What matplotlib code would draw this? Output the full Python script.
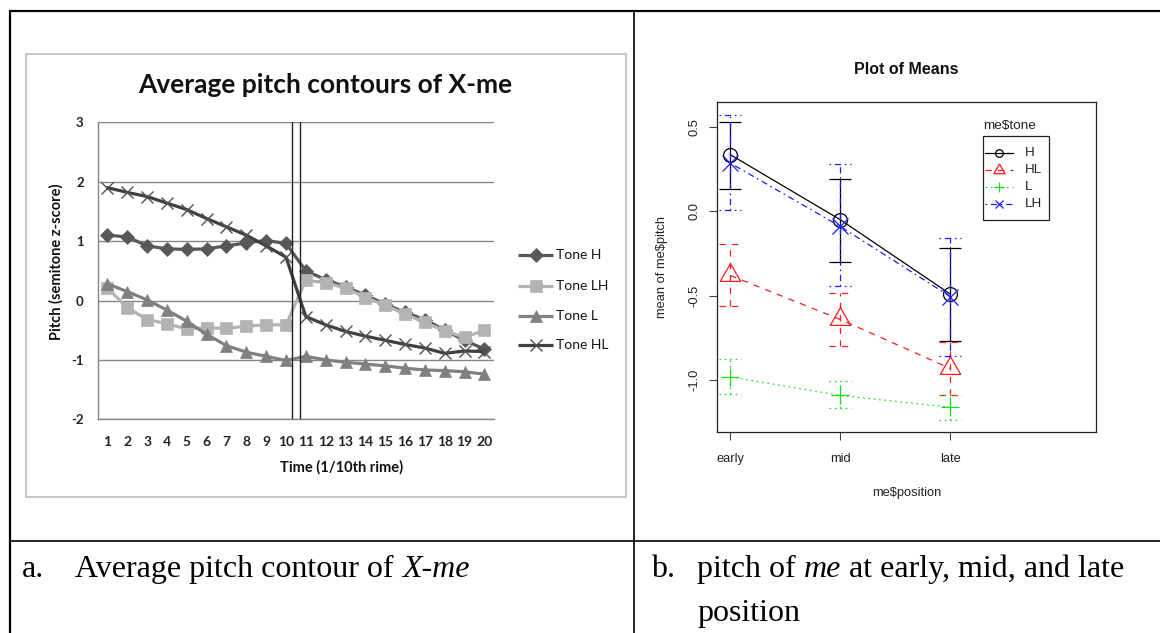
import matplotlib
matplotlib.use("Agg")
import matplotlib.pyplot as plt
from matplotlib.patches import Rectangle

W, H = 1160, 633

# ---- panel a: average pitch contours over 20 time steps ----
time_steps = list(range(1, 21))
tone_h = [1.10, 1.07, 0.92, 0.87, 0.86, 0.87, 0.92, 0.97, 1.01, 0.96,
          0.50, 0.35, 0.23, 0.09, -0.06, -0.20, -0.32, -0.50, -0.67, -0.82]
tone_lh = [0.21, -0.12, -0.32, -0.39, -0.48, -0.46, -0.47, -0.43, -0.41, -0.41,
           0.34, 0.30, 0.21, 0.05, -0.08, -0.23, -0.37, -0.51, -0.62, -0.50]
tone_l = [0.28, 0.15, 0.01, -0.16, -0.35, -0.57, -0.76, -0.87, -0.94, -1.01,
          -0.94, -1.00, -1.04, -1.07, -1.10, -1.14, -1.17, -1.18, -1.20, -1.24]
tone_hl = [1.90, 1.82, 1.75, 1.64, 1.53, 1.38, 1.24, 1.10, 0.92, 0.73,
           -0.27, -0.41, -0.52, -0.60, -0.67, -0.74, -0.80, -0.89, -0.85, -0.86]
boundary_marks = [10.32, 10.71]
y_ticks_a = [-2, -1, 0, 1, 2, 3]

# ---- panel b: means with intervals by position ----
positions = ["early", "mid", "late"]
tones_b = ["H", "HL", "L", "LH"]
mean_h = [0.335, -0.05, -0.49]
low_h = [0.13, -0.30, -0.77]
high_h = [0.53, 0.19, -0.22]
mean_hl = [-0.38, -0.64, -0.93]
low_hl = [-0.56, -0.80, -1.085]
high_hl = [-0.196, -0.484, -0.775]
mean_l = [-0.98, -1.09, -1.16]
low_l = [-1.08, -1.164, -1.237]
high_l = [-0.874, -1.004, -1.085]
mean_lh = [0.285, -0.09, -0.505]
low_lh = [0.01, -0.443, -0.854]
high_lh = [0.57, 0.277, -0.156]
y_ticks_b = [-1.0, -0.5, 0.0, 0.5]

fig = plt.figure(figsize=(W / 100, H / 100), dpi=100)
fig.patch.set_facecolor("white")


def px_axes(left, top, right, bottom):
    return fig.add_axes([left / W, 1 - bottom / H, (right - left) / W, (bottom - top) / H])


EXCEL = "Lato"
RFONT = "Liberation Sans"
SERIF = "Liberation Serif"

# ================= panel a =================
axl = px_axes(97.5, 122.3, 494.3, 419.3)
axl.set_xlim(0.5, 20.5)
axl.set_ylim(-2, 3)
for s in ["top", "right"]:
    axl.spines[s].set_visible(False)
for s in ["left", "bottom"]:
    axl.spines[s].set_color("#868686")
    axl.spines[s].set_linewidth(1.0)
axl.set_yticks(y_ticks_a)
axl.set_yticklabels([str(v) for v in y_ticks_a], fontfamily=EXCEL,
                    fontweight="bold", fontsize=9.5, color="#222222")
axl.set_xticks(time_steps)
axl.set_xticklabels([str(t) for t in time_steps], fontfamily=EXCEL,
                    fontweight="bold", fontsize=10, color="#222222")
axl.tick_params(axis="y", length=0, pad=10)
axl.tick_params(axis="x", length=0, pad=12)
axl.yaxis.grid(True, color="#868686", linewidth=1.0)
axl.set_axisbelow(True)

series_a = [
    ("Tone H", tone_h, "#585858", "D", 7, "#585858"),
    ("Tone LH", tone_lh, "#b3b3b3", "s", 8.5, "#b3b3b3"),
    ("Tone L", tone_l, "#808080", "^", 9, "#808080"),
    ("Tone HL", tone_hl, "#404040", "x", 8, "#505050"),
]
for name, vals, col, mk, ms, mcol in series_a:
    axl.plot(time_steps, vals, color=col, lw=2.3, marker=mk, ms=ms,
             markerfacecolor=mcol, markeredgecolor=mcol,
             mew=1.0 if mk == "x" else 0.5, solid_capstyle="round", zorder=3)
for xb in boundary_marks:
    axl.axvline(xb, color="#222222", lw=1.0, zorder=4)

# ================= panel b =================
axr = px_axes(716.7, 102.3, 1096, 432.3)
axr.set_xlim(0.876, 4.325)
axr.set_ylim(-1.308, 0.645)
axr.set_facecolor("none")
for s in axr.spines.values():
    s.set_color("#222222")
    s.set_linewidth(0.9)
xpos = [1, 2, 3]
axr.set_xticks(xpos)
axr.set_xticklabels(positions, fontfamily=RFONT, fontsize=9.3, color="#222222")
axr.set_yticks(y_ticks_b)
axr.set_yticklabels([f"{v:.1f}" for v in y_ticks_b], fontfamily=RFONT,
                    fontsize=9.3, rotation=90, va="center", color="#222222")
axr.tick_params(length=5.8, width=0.8, color="#444444")
axr.tick_params(axis="x", pad=9)
axr.tick_params(axis="y", pad=6)

tri = [(0, 1), (-0.866, -0.5), (0.866, -0.5), (0, 1)]
series_b = [
    ("H", mean_h, low_h, high_h, "black", "-", "o", 10, "none"),
    ("HL", mean_hl, low_hl, high_hl, "#ff1a1a", (0, (5, 5)), tri, 17, "none"),
    ("L", mean_l, low_l, high_l, "#1ed81e", (0, (1.3, 3)), "+", 13, "none"),
    ("LH", mean_lh, low_lh, high_lh, "#1a1aff", (0, (1.3, 3, 5, 3)), "x", 11, "none"),
]
cap = 0.1
for name, m, lo, hi, col, ls, mk, ms, fc in series_b:
    axr.vlines(xpos, lo, hi, colors=col, linestyles=ls, lw=0.9)
    axr.hlines(lo, [x - cap for x in xpos], [x + cap for x in xpos],
               colors=col, linestyles=ls, lw=0.9)
    axr.hlines(hi, [x - cap for x in xpos], [x + cap for x in xpos],
               colors=col, linestyles=ls, lw=0.9)
    axr.plot(xpos, m, color=col, linestyle=ls, lw=0.9)
    axr.plot(xpos, m, linestyle="none", marker=mk, ms=ms, mew=0.9,
             markerfacecolor=fc, markeredgecolor=col)

# ================= overlay: table, frames, legends, labels =================
ov = fig.add_axes([0, 0, 1, 1])
ov.set_xlim(0, W)
ov.set_ylim(H, 0)
ov.axis("off")
ov.patch.set_visible(False)

# table rules
ov.plot([9, W], [11, 11], color="black", lw=1.6, solid_capstyle="butt")
ov.plot([10, 10], [10, H], color="black", lw=1.6, solid_capstyle="butt")
ov.plot([634, 634], [10, H], color="black", lw=1.2, solid_capstyle="butt")
ov.plot([10, W], [541, 541], color="black", lw=1.2, solid_capstyle="butt")

# chart frame of panel a
ov.add_patch(Rectangle((25.5, 53.5), 600, 443, fill=False, edgecolor="#bdbdbd", lw=1.2))

# panel a texts
ov.text(325, 85, "Average pitch contours of X-me", fontfamily=EXCEL, fontweight="bold",
        fontsize=19, ha="center", va="center", color="#111111")
ov.text(56, 262, "Pitch (semitone z-score)", fontfamily=EXCEL, fontweight="bold",
        fontsize=10.5, rotation=90, ha="center", va="center", color="#111111")
ov.text(342, 467, "Time (1/10th rime)", fontfamily=EXCEL, fontweight="bold",
        fontsize=10.5, ha="center", va="center", color="#111111")

leg_y = [255, 286, 316, 345]
for (name, vals, col, mk, ms, mcol), yy in zip(series_a, leg_y):
    ov.plot([518, 553], [yy, yy], color=col, lw=2.3, solid_capstyle="butt")
    ov.plot([535.5], [yy], marker=mk, ms=ms, color=mcol, mew=1.0 if mk == "x" else 0.5,
            linestyle="none")
    ov.text(556, yy, name, fontfamily=EXCEL, fontsize=10, ha="left", va="center",
            color="#111111")

# panel b texts
ov.text(906.5, 69, "Plot of Means", fontfamily=RFONT, fontweight="bold", fontsize=11.5,
        ha="center", va="center", color="#111111")
ov.text(906.5, 493, "me\\$position", fontfamily=RFONT, fontsize=9.3,
        ha="center", va="center", color="#222222")
ov.text(662, 267, "mean of me\\$pitch", fontfamily=RFONT, fontsize=9.3, rotation=90,
        ha="center", va="center", color="#222222")

# panel b legend
ov.text(983, 126, "me\\$tone", fontfamily=RFONT, fontsize=9.7, ha="left", va="center",
        color="#222222")
ov.add_patch(Rectangle((983, 136), 66, 84, fill=False, edgecolor="#222222", lw=0.9))
leg_b_y = [153, 170, 187, 204]
for (name, m, lo, hi, col, ls, mk, ms, fc), yy in zip(series_b, leg_b_y):
    ov.plot([985, 1013], [yy, yy], color=col, linestyle=ls, lw=0.9)
    ov.plot([999], [yy], marker=mk, ms=ms * 0.55, mew=0.9, markerfacecolor=fc,
            markeredgecolor=col, linestyle="none")
    ov.text(1025, yy, name, fontfamily=RFONT, fontsize=9.7, ha="left", va="center",
            color="#222222")

# captions
renderer = fig.canvas.get_renderer()
CAP = 23


def runs(x, y, parts):
    for txt, style in parts:
        t = ov.text(x, y, txt, fontfamily=SERIF, fontstyle=style, fontsize=CAP,
                    ha="left", va="baseline", color="black")
        bb = t.get_window_extent(renderer=renderer)
        x = bb.x1 + (CAP * 100 / 72) * 0.25
    return x


ov.text(22, 577, "a.", fontfamily=SERIF, fontsize=CAP, ha="left", va="baseline")
runs(75, 577, [("Average pitch contour of", "normal"), ("X-me", "italic")])
ov.text(651, 577, "b.", fontfamily=SERIF, fontsize=CAP, ha="left", va="baseline")
runs(697, 577, [("pitch of", "normal"), ("me", "italic"), ("at early, mid, and late", "normal")])
ov.text(697, 621, "position", fontfamily=SERIF, fontsize=CAP, ha="left", va="baseline")

fig.savefig("out.png", dpi=100)
